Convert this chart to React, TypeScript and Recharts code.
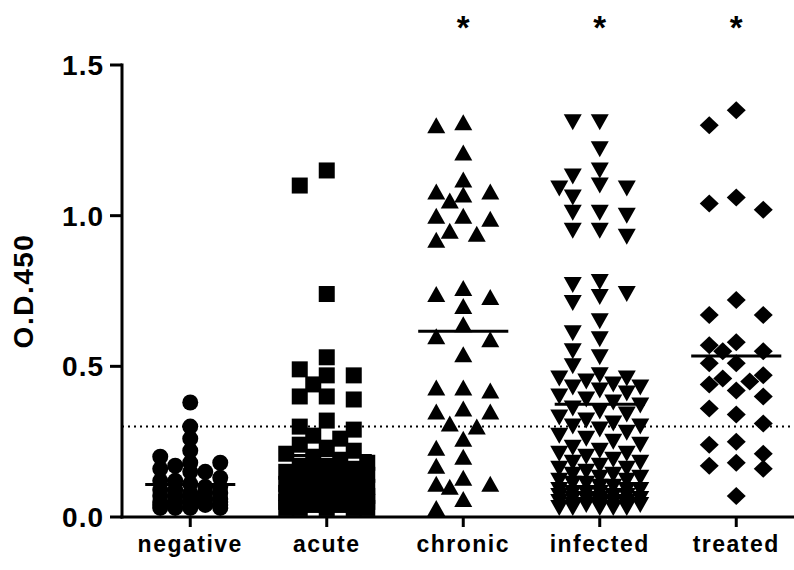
import React from 'react';
import { ScatterChart, Scatter, XAxis, YAxis, ReferenceLine, ReferenceDot, Label } from 'recharts';

const categories = ['negative', 'acute', 'chronic', 'infected', 'treated'];

const negative = [
  0.38, 0.30, 0.26, 0.22, 0.20, 0.18, 0.18, 0.17, 0.16, 0.15, 0.15, 0.13, 0.12, 0.12, 0.11, 0.10, 0.10, 0.09, 0.09, 0.08,
  0.08, 0.08, 0.07, 0.07, 0.07, 0.06, 0.06, 0.06, 0.05, 0.05, 0.05, 0.05, 0.04, 0.04, 0.04, 0.04, 0.03, 0.03, 0.03, 0.03
];
const acute = [
  1.15, 1.10, 0.74, 0.53, 0.49, 0.47, 0.47, 0.44, 0.40, 0.40, 0.39, 0.32, 0.30,
  0.29, 0.27, 0.26, 0.24, 0.23, 0.22, 0.21, 0.20, 0.19, 0.18, 0.17, 0.17, 0.16, 0.15, 0.15, 0.14, 0.14, 0.13, 0.13, 0.12,
  0.12, 0.11, 0.11, 0.10, 0.10, 0.09, 0.09, 0.09, 0.08, 0.08, 0.07, 0.07, 0.07, 0.06, 0.06, 0.06, 0.05, 0.05, 0.05, 0.05,
  0.04, 0.04, 0.04, 0.04, 0.04, 0.03, 0.03, 0.03, 0.03, 0.03
];
const chronic = [
  1.30, 1.31, 1.21, 1.12, 1.08, 1.08, 1.07, 1.05, 1.00, 0.99, 1.00, 0.94, 0.95, 0.92, 0.76, 0.74, 0.73, 0.70, 0.64, 0.60,
  0.59, 0.54, 0.42, 0.43, 0.43, 0.35, 0.35, 0.36, 0.31, 0.30, 0.26, 0.23, 0.20, 0.17, 0.11, 0.13, 0.11, 0.10, 0.06, 0.03
];
const infected = [
  1.31, 1.31, 1.22, 1.13, 1.15, 1.09, 1.10, 1.09, 1.06, 1.01, 1.01, 1.00, 0.95, 0.95, 0.93, 0.77, 0.73, 0.74, 0.78, 0.71,
  0.65, 0.61, 0.59, 0.55, 0.53, 0.50,
  0.47, 0.46, 0.46, 0.45, 0.44, 0.43, 0.43, 0.42, 0.41, 0.40, 0.39, 0.38, 0.37, 0.36, 0.35, 0.34, 0.33, 0.32, 0.31, 0.30,
  0.30, 0.29, 0.28, 0.27, 0.26, 0.25, 0.24, 0.23, 0.22, 0.21, 0.21, 0.20, 0.19, 0.18, 0.18, 0.17, 0.16, 0.16, 0.15, 0.14,
  0.14, 0.13, 0.13, 0.12, 0.12, 0.11, 0.11, 0.10, 0.10, 0.09, 0.09, 0.09, 0.08, 0.08, 0.08, 0.07, 0.07, 0.07, 0.06, 0.06,
  0.06, 0.06, 0.05, 0.05, 0.05, 0.05, 0.04, 0.04, 0.04, 0.04, 0.04, 0.03, 0.03, 0.03, 0.03, 0.03
];
const treated = [
  1.35, 1.30, 1.06, 1.04, 1.02, 0.72, 0.67, 0.67, 0.57, 0.58, 0.55, 0.55, 0.51, 0.51, 0.47, 0.45, 0.42, 0.46, 0.44, 0.40,
  0.36, 0.34, 0.31, 0.25, 0.24, 0.21, 0.18, 0.17, 0.16, 0.07
];

const groups = [negative, acute, chronic, infected, treated];
const starred = [2, 3, 4];
const starLevel = 1.65;
const cutoff = 0.3;
const yTicks = [0, 0.5, 1.0, 1.5];
const xTicks = categories.map((_, i) => i + 0.5);

const FONT = '"Liberation Sans", Arial, sans-serif';
const W = 820;
const H = 570;
const MARGIN = { top: 65, right: 15.5, bottom: 0, left: 22 };
const Y_AXIS_W = 100;
const X_AXIS_H = 53;
const pxX = (W - MARGIN.left - MARGIN.right - Y_AXIS_W) / categories.length;
const pxY = (H - MARGIN.top - MARGIN.bottom - X_AXIS_H) / 1.5;

// per-group column spacing (px), columns either side, and marker clearance
const layout = [
  { slot: 15, max: 2, gap: 12 },
  { slot: 13.5, max: 3, gap: 16 },
  { slot: 13.5, max: 2, gap: 18 },
  { slot: 13.5, max: 3, gap: 15 },
  { slot: 13.5, max: 2, gap: 19 }
];
const slotOrder = [0, -2, 2, -1, 1, -3, 3];

// simple beeswarm: put each value in the first free column, else the least crowded
function swarm(values: number[], idx: number) {
  const { slot, max, gap } = layout[idx];
  const placed: { s: number; v: number }[] = [];
  const out: { x: number; y: number }[] = [];
  [...values].sort((a, b) => b - a).forEach((v) => {
    let best = 0;
    let bestD = -1;
    for (const s of slotOrder) {
      if (Math.abs(s) > max) continue;
      let dmin = Infinity;
      for (const p of placed) {
        const d = Math.hypot((s - p.s) * slot, (v - p.v) * pxY);
        if (d < dmin) dmin = d;
      }
      if (dmin >= gap) {
        best = s;
        break;
      }
      if (dmin > bestD) {
        bestD = dmin;
        best = s;
      }
    }
    placed.push({ s: best, v });
    out.push({ x: idx + 0.5 + (best * slot) / pxX, y: v });
  });
  return out;
}

const mean = (a: number[]) => a.reduce((s, v) => s + v, 0) / a.length;

const Circle = (p: any) => <circle cx={p.cx} cy={p.cy} r={8} fill="#000" />;
const Square = (p: any) => <rect x={p.cx - 8} y={p.cy - 8} width={16} height={16} fill="#000" />;
const TriUp = (p: any) => (
  <polygon points={`${p.cx},${p.cy - 8} ${p.cx + 9},${p.cy + 8} ${p.cx - 9},${p.cy + 8}`} fill="#000" />
);
const TriDown = (p: any) => (
  <polygon points={`${p.cx - 9},${p.cy - 8} ${p.cx + 9},${p.cy - 8} ${p.cx},${p.cy + 8}`} fill="#000" />
);
const Diamond = (p: any) => (
  <polygon
    points={`${p.cx},${p.cy - 9} ${p.cx + 9.5},${p.cy} ${p.cx},${p.cy + 9} ${p.cx - 9.5},${p.cy}`}
    fill="#000"
  />
);
const shapes = [Circle, Square, TriUp, TriDown, Diamond];

const Star = (p: any) => (
  <text x={p.cx} y={p.cy + 19} textAnchor="middle" fontFamily={FONT} fontWeight="bold" fontSize={33} fill="#000">
    *
  </text>
);

function AxisTitle(props: any) {
  const { x, y, height } = props.viewBox;
  return (
    <text
      transform={`translate(${x + 1},${y + height / 2}) rotate(-90)`}
      textAnchor="middle"
      dominantBaseline="central"
      fontFamily={FONT}
      fontWeight="bold"
      fontSize={28}
      letterSpacing={1.5}
      fill="#000"
    >
      O.D.450
    </text>
  );
}

export default function App() {
  const axisLine = { stroke: '#000', strokeWidth: 3, strokeLinecap: 'square' as const };
  const tickLine = { stroke: '#000', strokeWidth: 3 };
  return (
    <div style={{ position: 'fixed', left: 0, top: 0, width: 794, height: 570, overflow: 'hidden', background: '#fff' }}>
      <ScatterChart width={W} height={H} margin={MARGIN}>
        <XAxis
          type="number"
          dataKey="x"
          domain={[0, 5]}
          ticks={xTicks}
          tickFormatter={(v: number) => categories[Math.floor(v)]}
          height={X_AXIS_H}
          axisLine={axisLine}
          tickLine={tickLine}
          tickSize={10}
          tickMargin={9}
          interval={0}
          tick={{ fill: '#000', fontSize: 23, fontWeight: 'bold', fontFamily: FONT, letterSpacing: 1.5 }}
        />
        <YAxis
          type="number"
          dataKey="y"
          domain={[0, 1.5]}
          ticks={yTicks}
          tickFormatter={(v: number) => v.toFixed(1)}
          width={Y_AXIS_W}
          axisLine={axisLine}
          tickLine={tickLine}
          tickSize={12}
          tickMargin={6}
          interval={0}
          tick={{ fill: '#000', fontSize: 28, fontWeight: 'bold', fontFamily: FONT, letterSpacing: 1 }}
        >
          <Label content={AxisTitle} />
        </YAxis>
        <ReferenceLine y={cutoff} stroke="#000" strokeWidth={2} strokeDasharray="2 4" />
        {groups.map((g, i) => (
          <Scatter
            key={categories[i]}
            name={categories[i]}
            data={swarm(g, i)}
            shape={shapes[i]}
            isAnimationActive={false}
          />
        ))}
        {groups.map((g, i) => (
          <ReferenceLine
            key={'m' + i}
            segment={[
              { x: i + 0.5 - 0.33, y: mean(g) },
              { x: i + 0.5 + 0.33, y: mean(g) }
            ]}
            stroke="#000"
            strokeWidth={3}
          />
        ))}
        {starred.map((i) => (
          <ReferenceDot key={'s' + i} x={i + 0.5} y={starLevel} ifOverflow="visible" shape={Star} />
        ))}
      </ScatterChart>
    </div>
  );
}
